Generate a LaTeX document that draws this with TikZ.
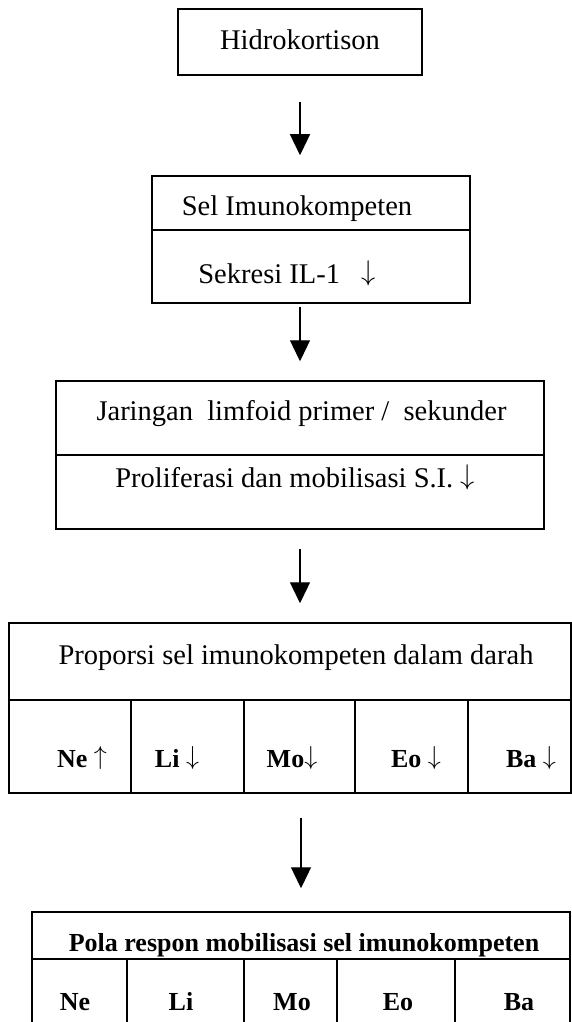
\RequirePackage{fix-cm}
\documentclass[tikz,border=0pt]{standalone}
\usepackage{fontspec}
\setmainfont{Liberation Serif}
\usetikzlibrary{arrows.meta}
\newcommand{\dn}{\raisebox{0.1em}{$\downarrow$}}
\newcommand{\upa}{\raisebox{0.1em}{$\uparrow$}}
\begin{document}
\begin{tikzpicture}[x=1pt,y=-1pt,
  box/.style={draw, line width=1.5pt, rectangle, inner sep=0pt},
  sep/.style={line width=1.5pt},
  reg/.style={font=\fontsize{28.5}{30}\selectfont, anchor=base, inner sep=0pt},
  bld/.style={font=\fontsize{26}{28}\selectfont\bfseries, anchor=base, inner sep=0pt},
  arr/.style={-{Triangle[width=20pt,length=21pt]}, line width=1.3pt}]
\useasboundingbox (0,0) rectangle (572,1022);
\clip (0,0) rectangle (572,1022);
% boxes
\node[box, minimum width=244pt, minimum height=66pt] (hidro) at (300,42) {};
\node[box, minimum width=318pt, minimum height=127pt] (sel) at (311,239.5) {};
\node[box, minimum width=488pt, minimum height=148pt] (jar) at (300,455) {};
\node[box, minimum width=562pt, minimum height=170pt] (prop) at (290,708) {};
\node[box, minimum width=538pt, minimum height=130pt] (pola) at (301,977) {};
% row dividers
\coordinate (d1) at (0,230);
\coordinate (d2) at (0,455);
\coordinate (d3) at (0,700);
\coordinate (d4) at (0,959);
\draw[sep] (sel.west |- d1) -- (sel.east |- d1);
\draw[sep] (jar.west |- d2) -- (jar.east |- d2);
\draw[sep] (prop.west |- d3) -- (prop.east |- d3);
\draw[sep] (pola.west |- d4) -- (pola.east |- d4);
% cell dividers
\foreach \x in {131,244,355,468} \draw[sep] (\x,700) -- (\x,793);
\foreach \x in {127,244,337,455} \draw[sep] (\x,959) -- (\x,1042);
% texts
\node[reg] (t1) at (300,50) {Hidrokortison};
\node[reg] (t2) at (297,215) {Sel Imunokompeten};
\node[reg] (t3) at (287,283) {Sekresi IL-1\hspace{0.75em}\dn};
\node[reg] (t4) at (301.5,420) {Jaringan\ \ limfoid primer /\ \ sekunder};
\node[reg] (t5) at (295,487) {Proliferasi dan mobilisasi S.I.\ \dn};
\node[reg] (t6) at (296,664) {Proporsi sel imunokompeten dalam darah};
\node[bld] (c1) at (82,767) {Ne\ \upa};
\node[bld] (c2) at (177,767) {Li\ \dn};
\node[bld] (c3) at (292,767) {Mo\dn};
\node[bld] (c4) at (416,767) {Eo\ \dn};
\node[bld] (c5) at (531,767) {Ba\ \dn};
\node[bld] (t7) at (304,951) {Pola respon mobilisasi sel imunokompeten};
\node[bld] (p1) at (75,1010) {Ne};
\node[bld] (p2) at (181,1010) {Li};
\node[bld] (p3) at (292,1010) {Mo};
\node[bld] (p4) at (398,1010) {Eo};
\node[bld] (p5) at (519,1010) {Ba};
% arrows
\draw[arr, shorten <=26pt, shorten >=20pt] (hidro.south) -- (hidro.south |- sel.north);
\draw[arr, shorten <=3pt, shorten >=19pt] (sel.south -| jar.north) -- (jar.north);
\draw[arr, shorten <=19pt, shorten >=19pt] (jar.south) -- (jar.south |- prop.north);
\draw[arr, shorten <=24pt, shorten >=23pt] (pola.north |- prop.south) -- (pola.north);
\end{tikzpicture}
\end{document}
